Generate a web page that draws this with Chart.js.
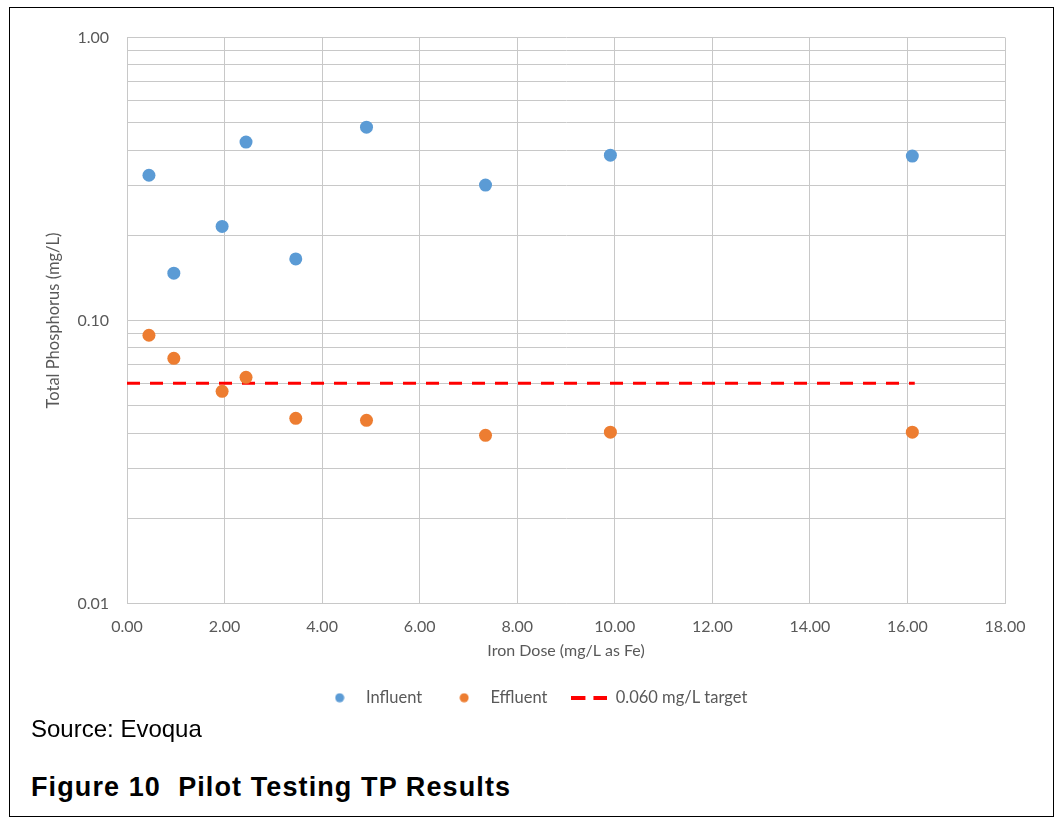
<!DOCTYPE html>
<html lang="en">
  <head>
    <meta charset="UTF-8" />
    <title>Pilot Testing TP Results</title>
    <script src="https://cdn.jsdelivr.net/npm/chart.js"></script>
    <style>
      body { margin: 0; background: #fff; }
      .frame {
        position: absolute; left: 9px; top: 7px;
        width: 1045px; height: 810px;
        border: 1px solid #000; box-sizing: border-box;
      }
      .chartbox { position: absolute; left: 0; top: 1px; width: 1045px; height: 707px; }
      .source {
        position: absolute; left: 21px; top: 707px;
        font: 24px "Liberation Sans", Arial, sans-serif; color: #000;
      }
      .caption {
        position: absolute; left: 21px; top: 764px;
        font: bold 27px "Liberation Sans", Arial, sans-serif; letter-spacing: 1.1px; color: #000;
      }
    </style>
  </head>
  <body>
    <div class="frame">
      <div class="chartbox"><canvas id="tpChart"></canvas></div>
      <div class="source">Source: Evoqua</div>
      <div class="caption">Figure 10&nbsp; Pilot Testing TP Results</div>
    </div>

    <script>
      // iron dose (mg/L as Fe) for each pilot run
      const ironDose = [0.45, 0.96, 1.95, 2.44, 3.46, 4.91, 7.35, 9.91, 16.1];
      const influentTP = [0.326, 0.147, 0.215, 0.427, 0.165, 0.482, 0.301, 0.384, 0.381];
      const effluentTP = [0.0887, 0.0735, 0.0562, 0.063, 0.0451, 0.0444, 0.0393, 0.0403, 0.0403];
      const targetX = [0, 16.15];
      const targetTP = [0.06, 0.06];

      const yTickValues = [
        0.01, 0.02, 0.03, 0.04, 0.05, 0.06, 0.07, 0.08, 0.09,
        0.1, 0.2, 0.3, 0.4, 0.5, 0.6, 0.7, 0.8, 0.9, 1.0,
      ];
      const yTickLabels = [
        "0.01", "", "", "", "", "", "", "", "",
        "0.10", "", "", "", "", "", "", "", "", "1.00",
      ];

      const blue = "#5B9BD5";
      const orange = "#ED7D31";
      const red = "#FF0000";
      const gridColor = "#c8c8c8";
      const textColor = "#595959";
      const font = "Lato, 'Open Sans', sans-serif";

      function legendDot(color) {
        const c = document.createElement("canvas");
        c.width = 10; c.height = 10;
        const g = c.getContext("2d");
        g.fillStyle = color;
        g.beginPath();
        g.arc(5, 5, 4.5, 0, Math.PI * 2);
        g.fill();
        return c;
      }

      function legendDash(color) {
        const c = document.createElement("canvas");
        c.width = 36; c.height = 4;
        const g = c.getContext("2d");
        g.fillStyle = color;
        g.fillRect(0, 0, 14, 4);
        g.fillRect(22, 0, 14, 4);
        return c;
      }

      const legendIcons = [legendDot(blue), legendDot(orange), legendDash(red)];

      function pairs(xs, ys) {
        return xs.map((x, i) => ({ x: x, y: ys[i] }));
      }

      const ctx = document.getElementById("tpChart").getContext("2d");
      new Chart(ctx, {
        type: "scatter",
        data: {
          datasets: [
            {
              label: "Influent",
              data: pairs(ironDose, influentTP),
              backgroundColor: blue,
              borderWidth: 0,
              pointRadius: 6.5,
              pointHoverRadius: 6.5,
            },
            {
              label: "Effluent",
              data: pairs(ironDose, effluentTP),
              backgroundColor: orange,
              borderWidth: 0,
              pointRadius: 6.5,
              pointHoverRadius: 6.5,
            },
            {
              label: "0.060 mg/L target",
              data: pairs(targetX, targetTP),
              showLine: true,
              borderColor: red,
              backgroundColor: red,
              borderWidth: 3,
              borderDash: [13, 10],
              pointRadius: 0,
              pointHoverRadius: 0,
            },
          ],
        },
        options: {
          responsive: true,
          maintainAspectRatio: false,
          animation: false,
          layout: { padding: { top: 28.5, right: 50, bottom: 0, left: 54 } },
          scales: {
            x: {
              type: "linear",
              min: 0,
              max: 18,
              grid: { color: gridColor, drawTicks: false },
              border: { color: gridColor },
              ticks: {
                stepSize: 2,
                padding: 14,
                color: textColor,
                font: { family: font, size: 16 },
                callback: (v) => v.toFixed(2),
              },
              title: {
                display: true,
                text: "Iron Dose (mg/L as Fe)",
                color: textColor,
                font: { family: font, size: 16 },
                padding: { top: 0, bottom: 5 },
              },
              afterFit: (scale) => { scale.height = 62; },
            },
            y: {
              type: "logarithmic",
              min: 0.01,
              max: 1,
              grid: { color: gridColor, drawTicks: false },
              border: { color: gridColor },
              afterBuildTicks: (scale) => {
                scale.ticks = yTickValues.map((v) => ({ value: v }));
              },
              ticks: {
                autoSkip: false,
                padding: 18,
                color: textColor,
                font: { family: font, size: 16 },
                callback: (v, i) => yTickLabels[i],
              },
              title: {
                display: true,
                text: "Total Phosphorus (mg/L)",
                color: textColor,
                font: { family: font, size: 16.5 },
                padding: { top: -20, bottom: 0 },
              },
              afterFit: (scale) => { scale.width = 63; },
            },
          },
          plugins: {
            tooltip: { enabled: false },
            legend: {
              position: "bottom",
              labels: {
                usePointStyle: true,
                pointStyleWidth: 36,
                padding: 24,
                color: textColor,
                font: { family: font, size: 16.5 },
                generateLabels: (chart) => {
                  const items = Chart.defaults.plugins.legend.labels.generateLabels(chart);
                  items.forEach((item, i) => { item.pointStyle = legendIcons[i]; });
                  return items;
                },
              },
            },
          },
        },
      });
    </script>
  </body>
</html>
